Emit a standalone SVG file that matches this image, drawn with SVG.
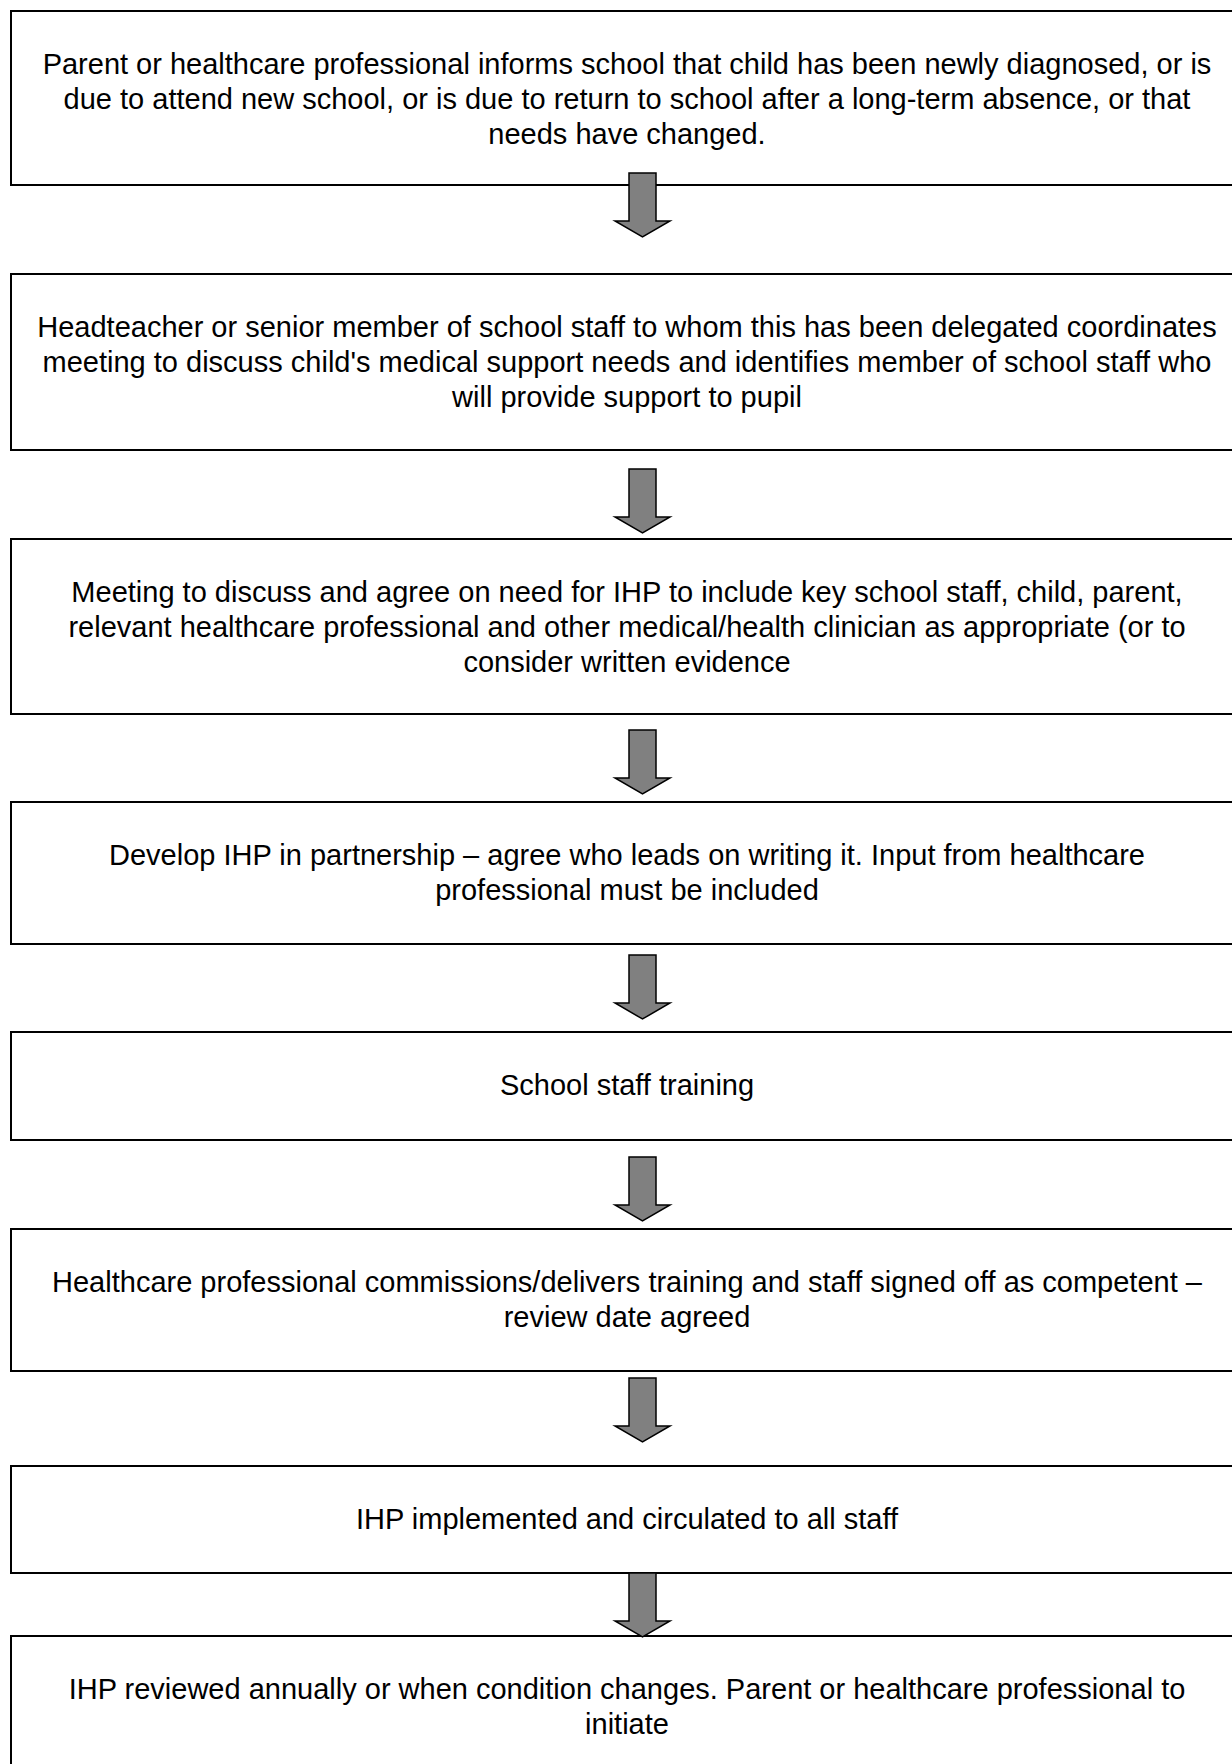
<svg xmlns="http://www.w3.org/2000/svg" width="1232" height="1764" viewBox="0 0 1232 1764">
<style>
.box{fill:#fff;stroke:#000;stroke-width:2}
.t{font-family:"Liberation Sans",Arial,sans-serif;font-size:29px;fill:#000;text-anchor:middle}
.arr{fill:#808080;stroke:#000;stroke-width:1.5;stroke-linejoin:miter}
</style>
<defs>
<path id="arrow" class="arr" d="M629,0 L656,0 L656,48 L670,48 L642.5,64 L615,48 L629,48 Z"/>
</defs>
<rect width="1232" height="1764" fill="#fff"/>
<g id="n1"><rect class="box" x="11" y="11" width="1232" height="174"/>
<text class="t"><tspan x="627" y="74">Parent or healthcare professional informs school that child has been newly diagnosed, or is</tspan><tspan x="627" y="109">due to attend new school, or is due to return to school after a long-term absence, or that</tspan><tspan x="627" y="144">needs have changed.</tspan></text></g>
<g id="n2"><rect class="box" x="11" y="274" width="1232" height="176"/>
<text class="t"><tspan x="627" y="337">Headteacher or senior member of school staff to whom this has been delegated coordinates</tspan><tspan x="627" y="372">meeting to discuss child's medical support needs and identifies member of school staff who</tspan><tspan x="627" y="407">will provide support to pupil</tspan></text></g>
<g id="n3"><rect class="box" x="11" y="539" width="1232" height="175"/>
<text class="t"><tspan x="627" y="602">Meeting to discuss and agree on need for IHP to include key school staff, child, parent,</tspan><tspan x="627" y="637">relevant healthcare professional and other medical/health clinician as appropriate (or to</tspan><tspan x="627" y="672">consider written evidence</tspan></text></g>
<g id="n4"><rect class="box" x="11" y="802" width="1232" height="142"/>
<text class="t"><tspan x="627" y="865">Develop IHP in partnership – agree who leads on writing it. Input from healthcare</tspan><tspan x="627" y="900">professional must be included</tspan></text></g>
<g id="n5"><rect class="box" x="11" y="1032" width="1232" height="108"/>
<text class="t" x="627" y="1095">School staff training</text></g>
<g id="n6"><rect class="box" x="11" y="1229" width="1232" height="142"/>
<text class="t"><tspan x="627" y="1292">Healthcare professional commissions/delivers training and staff signed off as competent –</tspan><tspan x="627" y="1327">review date agreed</tspan></text></g>
<g id="n7"><rect class="box" x="11" y="1466" width="1232" height="107"/>
<text class="t" x="627" y="1529">IHP implemented and circulated to all staff</text></g>
<g id="n8"><rect class="box" x="11" y="1636" width="1232" height="140"/>
<text class="t"><tspan x="627" y="1699">IHP reviewed annually or when condition changes. Parent or healthcare professional to</tspan><tspan x="627" y="1734">initiate</tspan></text></g>
<g id="connectors">
<use href="#arrow" transform="translate(0,173)"/>
<use href="#arrow" transform="translate(0,469)"/>
<use href="#arrow" transform="translate(0,730)"/>
<use href="#arrow" transform="translate(0,955)"/>
<use href="#arrow" transform="translate(0,1157)"/>
<use href="#arrow" transform="translate(0,1378)"/>
<use href="#arrow" transform="translate(0,1573)"/>
</g>
</svg>
